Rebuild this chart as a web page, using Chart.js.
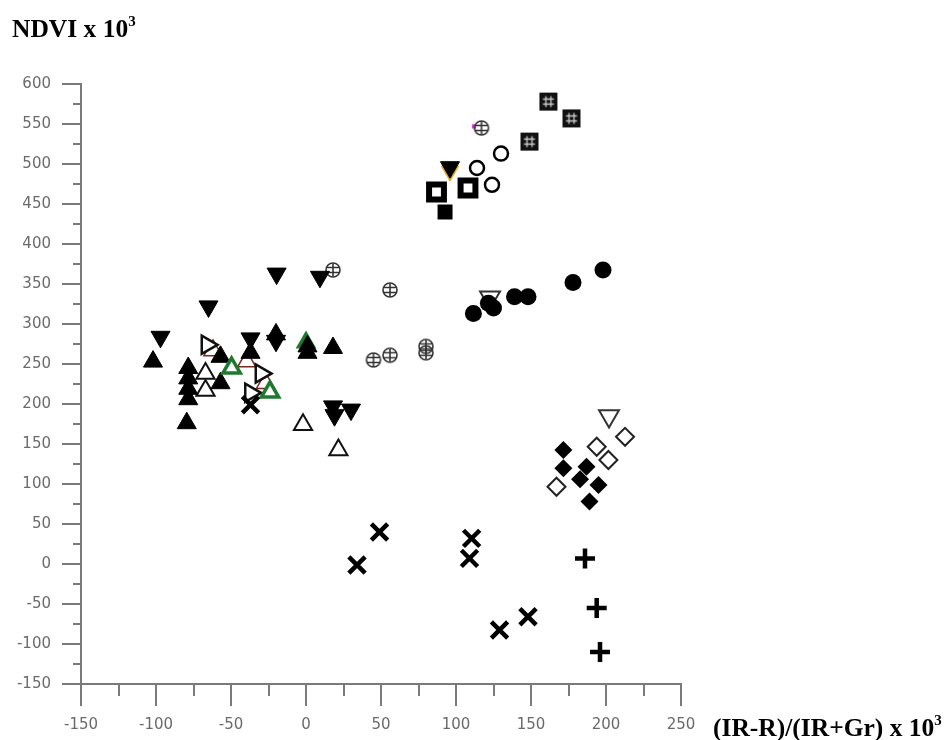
<!DOCTYPE html>
<html>
<head>
<meta charset="utf-8">
<script src="https://cdn.jsdelivr.net/npm/chart.js@4/dist/chart.umd.min.js"></script>
<style>
body{margin:0;background:#fff}
#wrap{position:relative;width:952px;height:740px}
.ttl{position:absolute;font-family:"Liberation Serif","Times New Roman",serif;font-weight:bold;font-size:25.5px;line-height:1;color:#000;white-space:nowrap}
.ttl span{font-size:15px;vertical-align:11px}
</style>
</head>
<body>
<div id="wrap">
<canvas id="c" width="952" height="740"></canvas>
<div class="ttl" style="left:12px;top:14px">NDVI x 10<span>3</span></div>
<div class="ttl" style="left:713px;top:713px">(IR-R)/(IR+Gr) x 10<span>3</span></div>
</div>
<script>
// =============================
// DATA (x, y)
// =============================
const xTicks = [-150,-100,-50,0,50,100,150,200,250]
const yTicks = [-150,-100,-50,0,50,100,150,200,250,300,350,400,450,500,550,600]
const xMinorTicks = [-125,-75,-25,25,75,125,175,225]
const yMinorTicks = [-125,-75,-25,25,75,125,175,225,275,325,375,425,475,525,575]

const filledDown = [[-19.6,363],[9.3,359],[-65,322],[-97,284],[-37,282],[-20,279],[18,197],[19,186],[30,193],[96,496]]
const filledUp = [[-102,253],[-37,264],[-20,287],[1,272],[1,264],[18,270],[-78.5,245],[-78.5,232],[-78.5,219],[-78.5,206],[-79.5,176],[-57,259],[-57,226]]
const openUp = [[-67,238],[-67,217],[-2,174],[21.6,142.5]]
const openRight = [[-66,274],[-30,238],[-37,214]]
const greenOpen = [[-49.6,245],[-24,215]]
const greenHidden = [[0,277]]
const redOpen = [[-62,267],[-39.5,253],[-27,226]]
const yellowDown = [[96,491]]
const magentaDot = [[112,547]]
const gridCircles = [[18,367.5],[56,342.5],[45,255],[56,261],[80,272],[80,264],[117,545]]
const gridSquares = [[161.6,578],[177,557],[149,528]]
const openCircles = [[130,513],[114,495],[124,474]]
const boldSquares = [[87,465],[108,470]]
const filledSquares = [[92.7,440]]
const filledCircles = [[111.6,313],[121.6,326],[125,320],[139,334],[148,334],[178,352],[198,367.5]]
const openDown = [[122.7,333.5],[202,185]]
const openDiamonds = [[212.7,159],[193.8,146.6],[201.6,130],[167,96.6]]
const filledDiamonds = [[171.6,142.5],[171.6,119.6],[187,121.6],[182.7,106],[195,98.75],[189,78]]
const crosses = [[49,40],[34,-1.25],[110.4,32],[109,7],[129,-82.5],[148,-66],[-37,199]]
const pluses = [[186,7],[193.8,-55],[196,-110]]

const axisColor = "#7a7a7a"
const labelColor = "#6a6a6a"

// =============================
// custom marker pictures
// =============================
function gridCircleImg(){
let c = document.createElement("canvas")
c.width = 18; c.height = 18
let g = c.getContext("2d")
g.strokeStyle = "#333"
g.lineWidth = 1.6
g.beginPath(); g.arc(9,9,7,0,Math.PI*2); g.stroke()
g.beginPath()
g.moveTo(9,2.5); g.lineTo(9,15.5)
g.moveTo(3,6.5); g.lineTo(15,6.5)
g.moveTo(3,11.5); g.lineTo(15,11.5)
g.stroke()
return c
}

function gridSquareImg(){
let c = document.createElement("canvas")
c.width = 20; c.height = 20
let g = c.getContext("2d")
g.fillStyle = "#111"
g.fillRect(1,1,18,18)
g.strokeStyle = "#ccc"
g.lineWidth = 1.3
g.beginPath()
g.moveTo(7.5,4.5); g.lineTo(7.5,15.5)
g.moveTo(12.5,4.5); g.lineTo(12.5,15.5)
g.moveTo(4.5,7.5); g.lineTo(15.5,7.5)
g.moveTo(4.5,12.5); g.lineTo(15.5,12.5)
g.stroke()
return c
}

function pts(arr){
return arr.map(p => ({x:p[0], y:p[1]}))
}

function series(arr, style){
return Object.assign({data:pts(arr), showLine:false, order:1}, style)
}

// =============================
// minor ticks
// =============================
const minorTicks = {
id:"minorTicks",
afterDraw(chart){
const {ctx, scales:{x, y}} = chart
ctx.save()
ctx.strokeStyle = axisColor
ctx.lineWidth = 2
ctx.beginPath()
xMinorTicks.forEach(v => {
let px = Math.round(x.getPixelForValue(v))
ctx.moveTo(px, x.top)
ctx.lineTo(px, x.top + 12)
})
yMinorTicks.forEach(v => {
let py = Math.round(y.getPixelForValue(v))
ctx.moveTo(y.right, py)
ctx.lineTo(y.right - 8, py)
})
ctx.stroke()
ctx.restore()
}
}

const datasets = [
series(crosses, {pointStyle:"crossRot", pointRadius:11.5, pointBorderWidth:4.5, pointBorderColor:"#000", order:0}),
series(pluses, {pointStyle:"cross", pointRadius:10, pointBorderWidth:4.5, pointBorderColor:"#000", order:0}),
series(greenOpen, {pointStyle:"triangle", pointRadius:10, pointBorderWidth:3.5, pointBorderColor:"#1d7a2e", pointBackgroundColor:"#fff", order:0}),
series(filledDown, {pointStyle:"triangle", pointRotation:180, pointRadius:11, pointBorderWidth:1, pointBorderColor:"#000", pointBackgroundColor:"#000"}),
series(filledUp, {pointStyle:"triangle", pointRadius:11, pointBorderWidth:1, pointBorderColor:"#000", pointBackgroundColor:"#000"}),
series(openUp, {pointStyle:"triangle", pointRadius:10.5, pointBorderWidth:2, pointBorderColor:"#111", pointBackgroundColor:"#fff", order:2}),
series(openRight, {pointStyle:"triangle", pointRotation:90, pointRadius:10.5, pointBorderWidth:2.5, pointBorderColor:"#111", pointBackgroundColor:"#fff", order:2}),
series(redOpen, {pointStyle:"triangle", pointRadius:10.5, pointBorderWidth:1.5, pointBorderColor:"#7a2a22", pointBackgroundColor:"rgba(0,0,0,0)", order:3}),
series(greenHidden, {pointStyle:"triangle", pointRadius:10, pointBorderWidth:2, pointBorderColor:"#1d7a2e", pointBackgroundColor:"#1d7a2e", order:4}),
series(yellowDown, {pointStyle:"triangle", pointRotation:180, pointRadius:10, pointBorderWidth:1, pointBorderColor:"#e0a820", pointBackgroundColor:"#f0b828", order:4}),
series(magentaDot, {pointStyle:"rect", pointRadius:3, pointBorderWidth:0, pointBackgroundColor:"#e040e0", order:4}),
series(gridCircles, {pointStyle:gridCircleImg()}),
series(gridSquares, {pointStyle:gridSquareImg()}),
series(openCircles, {pointStyle:"circle", pointRadius:7, pointBorderWidth:2.5, pointBorderColor:"#000", pointBackgroundColor:"#fff"}),
series(boldSquares, {pointStyle:"rect", pointRadius:10.5, pointBorderWidth:6, pointBorderColor:"#000", pointBackgroundColor:"#fff"}),
series(filledSquares, {pointStyle:"rect", pointRadius:10.6, pointBorderWidth:0, pointBackgroundColor:"#000"}),
series(filledCircles, {pointStyle:"circle", pointRadius:8.5, pointBorderWidth:0, pointBackgroundColor:"#000"}),
series(openDown, {pointStyle:"triangle", pointRotation:180, pointRadius:11.5, pointBorderWidth:2, pointBorderColor:"#333", pointBackgroundColor:"#fff", order:3}),
series(openDiamonds, {pointStyle:"rectRot", pointRadius:9, pointBorderWidth:2, pointBorderColor:"#222", pointBackgroundColor:"#fff", order:2}),
series(filledDiamonds, {pointStyle:"rectRot", pointRadius:9, pointBorderWidth:0, pointBackgroundColor:"#000"})
]

new Chart(document.getElementById("c"), {
type:"scatter",
data:{datasets:datasets},
plugins:[minorTicks],
options:{
responsive:false,
animation:false,
events:[],
layout:{padding:{top:84, right:271, left:0, bottom:0}},
plugins:{legend:{display:false}, tooltip:{enabled:false}},
scales:{
x:{
type:"linear",
min:-150, max:250,
afterBuildTicks(scale){ scale.ticks = xTicks.map(v => ({value:v})) },
afterFit(scale){ scale.height = 56 },
border:{display:true, color:axisColor, width:2},
grid:{drawOnChartArea:false, drawTicks:true, tickLength:22, color:axisColor, lineWidth:2},
ticks:{color:labelColor, padding:10, maxRotation:0, autoSkip:false, font:{family:"DejaVu Sans", size:15}}
},
y:{
type:"linear",
min:-150, max:600,
afterBuildTicks(scale){ scale.ticks = yTicks.map(v => ({value:v})) },
afterFit(scale){ scale.width = 81 },
border:{display:true, color:axisColor, width:2},
grid:{drawOnChartArea:false, drawTicks:true, tickLength:19, color:axisColor, lineWidth:2},
ticks:{color:labelColor, padding:11, autoSkip:false, font:{family:"DejaVu Sans", size:15}}
}
}
}
})
</script>
</body>
</html>
